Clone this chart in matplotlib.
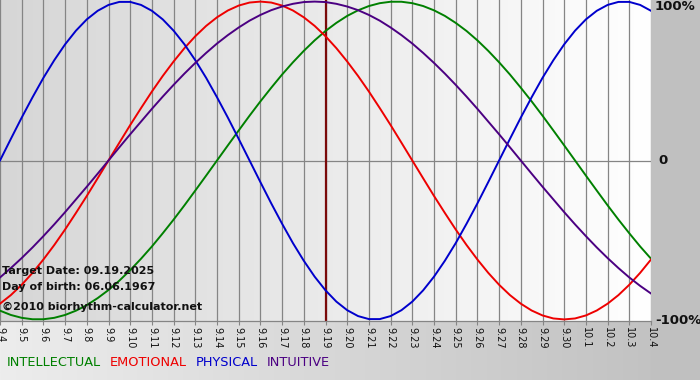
import matplotlib
matplotlib.use("Agg")
import matplotlib.pyplot as plt
import numpy as np
from matplotlib.colors import LinearSegmentedColormap
from matplotlib.transforms import blended_transform_factory

# day labels (month.day), 09.04.2025 .. 10.04.2025
DAYS = ["9.4", "9.5", "9.6", "9.7", "9.8", "9.9", "9.10", "9.11", "9.12",
        "9.13", "9.14", "9.15", "9.16", "9.17", "9.18", "9.19", "9.20",
        "9.21", "9.22", "9.23", "9.24", "9.25", "9.26", "9.27", "9.28",
        "9.29", "9.30", "10.1", "10.2", "10.3", "10.4"]

# cycle values in percent, read every half day from 9.4 to 10.4
PHYSICAL = [0, 13.6, 27.0, 39.8, 52.0, 63.1, 73.1, 81.7, 88.8, 94.2, 97.9,
            99.8, 99.8, 97.9, 94.2, 88.8, 81.7, 73.1, 63.1, 52.0, 39.8, 27.0,
            13.6, 0, -13.6, -27.0, -39.8, -52.0, -63.1, -73.1, -81.7, -88.8,
            -94.2, -97.9, -99.8, -99.8, -97.9, -94.2, -88.8, -81.7, -73.1,
            -63.1, -52.0, -39.8, -27.0, -13.6, 0, 13.6, 27.0, 39.8, 52.0,
            63.1, 73.1, 81.7, 88.8, 94.2, 97.9, 99.8, 99.8, 97.9, 94.2]
EMOTIONAL = [-90.1, -84.7, -78.2, -70.7, -62.3, -53.2, -43.4, -33.0, -22.3,
             -11.2, 0, 11.2, 22.3, 33.0, 43.4, 53.2, 62.3, 70.7, 78.2, 84.7,
             90.1, 94.4, 97.5, 99.4, 100, 99.4, 97.5, 94.4, 90.1, 84.7, 78.2,
             70.7, 62.3, 53.2, 43.4, 33.0, 22.3, 11.2, 0, -11.2, -22.3, -33.0,
             -43.4, -53.2, -62.3, -70.7, -78.2, -84.7, -90.1, -94.4, -97.5,
             -99.4, -100, -99.4, -97.5, -94.4, -90.1, -84.7, -78.2, -70.7,
             -62.3]
INTELLECTUAL = [-94.5, -97.2, -99.0, -99.9, -99.9, -99.0, -97.2, -94.5, -91.0,
                -86.6, -81.5, -75.6, -69.0, -61.8, -54.1, -45.8, -37.2, -28.2,
                -18.9, -9.5, 0, 9.5, 18.9, 28.2, 37.2, 45.8, 54.1, 61.8, 69.0,
                75.6, 81.5, 86.6, 91.0, 94.5, 97.2, 99.0, 99.9, 99.9, 99.0,
                97.2, 94.5, 91.0, 86.6, 81.5, 75.6, 69.0, 61.8, 54.1, 45.8,
                37.2, 28.2, 18.9, 9.5, 0, -9.5, -18.9, -28.2, -37.2, -45.8,
                -54.1, -61.8]
INTUITIVE = [-73.6, -67.7, -61.4, -54.7, -47.6, -40.2, -32.5, -24.5, -16.5,
             -8.3, 0, 8.3, 16.5, 24.5, 32.5, 40.2, 47.6, 54.7, 61.4, 67.7,
             73.6, 78.9, 83.7, 88.0, 91.6, 94.6, 96.9, 98.6, 99.7, 100, 99.7,
             98.6, 96.9, 94.6, 91.6, 88.0, 83.7, 78.9, 73.6, 67.7, 61.4, 54.7,
             47.6, 40.2, 32.5, 24.5, 16.5, 8.3, 0, -8.3, -16.5, -24.5, -32.5,
             -40.2, -47.6, -54.7, -61.4, -67.7, -73.6, -78.9, -83.7]
SAMPLE_STEP = 0.5  # days between readings

TARGET_DAY = "9.19"
TARGET_TEXT = "Target Date: 09.19.2025"
BIRTH_TEXT = "Day of birth: 06.06.1967"
COPY_TEXT = "\u00a92010 biorhythm-calculator.net"

C_PHYS = "#0000cc"
C_EMO = "#ee0000"
C_INT = "#008000"
C_INTU = "#4b0082"

W, H = 700, 380
fig = plt.figure(figsize=(W / 100, H / 100), dpi=100)

# figure background gradient
bg = fig.add_axes([0, 0, 1, 1], zorder=-5)
bg_cmap = LinearSegmentedColormap.from_list("bg", ["#ededed", "#bfbfbf"])
bg.imshow(np.linspace(0, 1, 256).reshape(1, -1), cmap=bg_cmap, aspect="auto",
          extent=[0, 1, 0, 1])
bg.axvspan(651 / W, 1, color="#c0c0c0", zorder=2)
bg.set_xlim(0, 1)
bg.set_ylim(0, 1)
bg.axis("off")

ax = fig.add_axes([0, 59 / H, 651 / W, 321 / H])
x = np.arange(len(DAYS))
ax.set_xlim(0, len(DAYS) - 1)
ax.set_ylim(-101, 101)

plot_cmap = LinearSegmentedColormap.from_list("plot", ["#d6d6d6", "#ffffff"])
ax.imshow(np.linspace(0, 1, 256).reshape(1, -1), cmap=plot_cmap, aspect="auto",
          extent=[0, len(DAYS) - 1, -101, 101], zorder=0)

for xi in x:
    ax.axvline(xi, color="#858585", lw=0.9, zorder=1)
ax.axhline(0, color="#858585", lw=0.9, zorder=1)

ax.axvline(DAYS.index(TARGET_DAY), color="#7a0a0a", lw=1.6, zorder=2)

xs = np.arange(len(PHYSICAL)) * SAMPLE_STEP
ax.plot(xs, INTELLECTUAL, color=C_INT, lw=1.4, zorder=3)
ax.plot(xs, EMOTIONAL, color=C_EMO, lw=1.4, zorder=3)
ax.plot(xs, PHYSICAL, color=C_PHYS, lw=1.4, zorder=3)
ax.plot(xs, INTUITIVE, color=C_INTU, lw=1.4, zorder=3)

for side in ["top", "left", "right"]:
    ax.spines[side].set_visible(False)
ax.spines["bottom"].set_color("#858585")
ax.spines["bottom"].set_linewidth(0.9)

ax.set_xticks(x)
ax.set_xticklabels(DAYS, rotation=270, fontsize=7, color="#111111")
ax.tick_params(axis="x", length=3, color="#858585", pad=1)
ax.set_yticks([])

tr = blended_transform_factory(ax.transAxes, ax.transData)
ax.text(1.006, 101, "100%", transform=tr, ha="left", va="top",
        fontsize=9.5, fontweight="bold", color="#111111")
ax.text(1.012, 0, "0", transform=tr, ha="left", va="center",
        fontsize=9.5, fontweight="bold", color="#111111")
ax.text(1.006, -101, "-100%", transform=tr, ha="left", va="center",
        fontsize=9.5, fontweight="bold", color="#111111")

fig.text(2 / W, 1 - 271 / H, TARGET_TEXT, ha="left", va="center",
         fontsize=8, fontweight="bold", color="#111111")
fig.text(2 / W, 1 - 287 / H, BIRTH_TEXT, ha="left", va="center",
         fontsize=8, fontweight="bold", color="#111111")
fig.text(2 / W, 1 - 307 / H, COPY_TEXT, ha="left", va="center",
         fontsize=8, fontweight="bold", color="#111111")

# legend words along the bottom
legend = [("INTELLECTUAL", C_INT), ("EMOTIONAL", C_EMO),
          ("PHYSICAL", C_PHYS), ("INTUITIVE", C_INTU)]
renderer = fig.canvas.get_renderer()
xpos = 7
for word, col in legend:
    t = fig.text(xpos / W, 1 - 362 / H, word, ha="left", va="center",
                 fontsize=9.3, color=col)
    bb = t.get_window_extent(renderer=renderer)
    xpos += bb.width + 9

fig.savefig("out.png", dpi=100)
